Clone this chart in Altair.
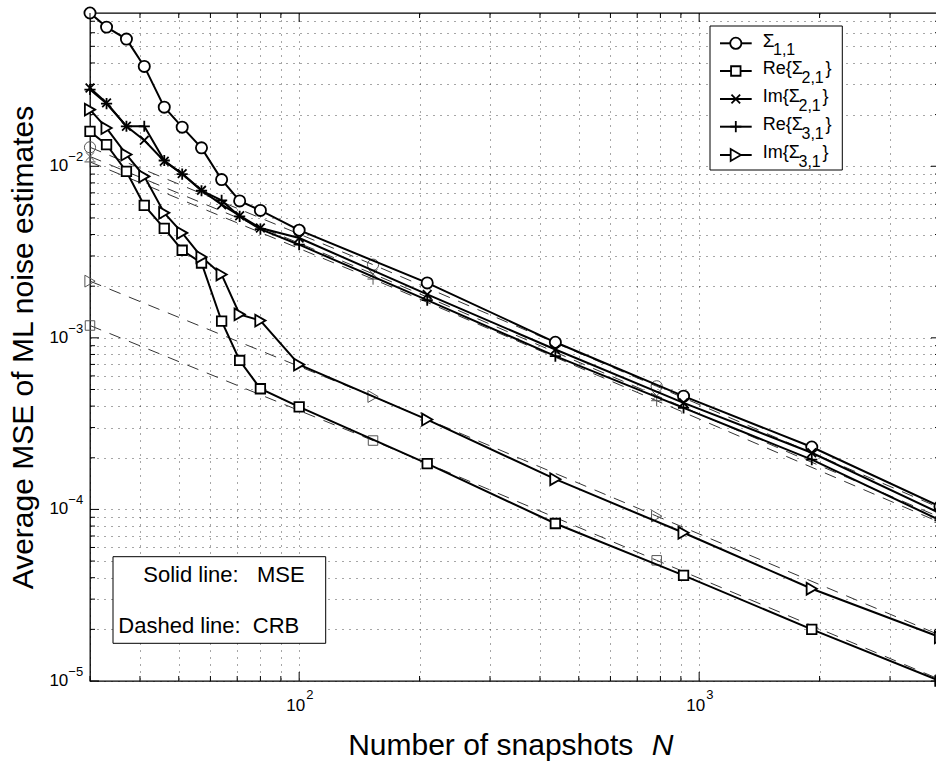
import altair as alt
import pandas as pd

FONT = "Liberation Sans"

# ---- number of snapshots ---------------------------------------------------
n_mse = [30, 33, 37, 41, 46, 51, 57, 64, 71, 80, 100, 209, 437, 914, 1912, 4000]
n_crb = [30, 153, 783, 4000]

# ---- average MSE of the ML noise estimates (solid lines) -------------------
mse_s11 = [0.0782, 0.0647, 0.0551, 0.0382, 0.0221, 0.0169, 0.0128, 0.00836,
           0.00628, 0.00553, 0.00424, 0.00209, 9.42e-4, 4.57e-4, 2.31e-4, 1.04e-4]
mse_re21 = [0.01596, 0.01336, 0.00933, 0.00591, 0.00434, 0.00324, 0.00273, 0.00125,
            7.38e-4, 5.05e-4, 3.96e-4, 1.85e-4, 8.28e-5, 4.13e-5, 2.0e-5, 1.0e-5]
mse_im21 = [0.0286, 0.0234, 0.0171, 0.01416, 0.0107, 0.00906, 0.00724, 0.00597,
            0.00515, 0.00437, 0.00382, 0.00179, 8.55e-4, 4.18e-4, 2.14e-4, 9.5e-5]
mse_re31 = [0.0280, 0.0232, 0.0171, 0.0171, 0.0108, 0.0090, 0.0072, 0.00632,
            0.0051, 0.0043, 0.00349, 0.00166, 7.82e-4, 3.91e-4, 1.95e-4, 8.65e-5]
mse_im31 = [0.02138, 0.0167, 0.0117, 0.00873, 0.00535, 0.00409, 0.00296, 0.00234,
            0.00137, 0.00126, 6.98e-4, 3.34e-4, 1.50e-4, 7.31e-5, 3.45e-5, 1.8e-5]

# ---- Cramer-Rao bounds (dashed lines) --------------------------------------
crb_s11 = [0.0129, 2.67e-3, 5.22e-4, 1.02e-4]
crb_re21 = [1.18e-3, 2.52e-4, 5.05e-5, 1.02e-5]
crb_im21 = [0.0114, 2.36e-3, 4.6e-4, 9.0e-5]
crb_re31 = [0.0106, 2.2e-3, 4.3e-4, 8.4e-5]
crb_im31 = [2.14e-3, 4.55e-4, 9.14e-5, 1.85e-5]

# ---- series, marker shapes and sizes ---------------------------------------
series_keys = ["s11", "re21", "im21", "re31", "im31"]
marker_shapes = ["circle", "square", "M-1,-1L1,1M-1,1L1,-1", "M-1,0L1,0M0,-1L0,1",
                 "triangle-right"]
marker_sizes = [125, 90, 75, 125, 140]

# ---- tick positions ----------------------------------------------------------
x_major = [100, 1000]
x_minor = [30, 40, 50, 60, 70, 80, 90, 200, 300, 400, 500, 600, 700, 800, 900,
           2000, 3000, 4000]
y_major = [1e-5, 1e-4, 1e-3, 1e-2]
y_minor = [k * 10.0 ** e for e in (-5, -4, -3, -2) for k in range(2, 10)
           if k * 10.0 ** e <= 0.0782]
x_label_exp = ["2", "3"]
y_label_exp = ["\u22125", "\u22124", "\u22123", "\u22122"]

W, H = 850, 668


def stack(ns, cols):
    rows = []
    for key, vals, sz in zip(series_keys, cols, marker_sizes):
        for n, v in zip(ns, vals):
            rows.append({"N": n, "value": v, "series": key, "msize": sz})
    return pd.DataFrame(rows)


mse_df = stack(n_mse, [mse_s11, mse_re21, mse_im21, mse_re31, mse_im31])
crb_df = stack(n_crb, [crb_s11, crb_re21, crb_im21, crb_re31, crb_im31])

xscale = alt.Scale(type="log", domain=[30, 4000], nice=False)
yscale = alt.Scale(type="log", domain=[1e-5, 0.0782], nice=False)

grid_style = dict(grid=True, labels=False, ticks=False, domain=False, title=None,
                  gridDash=[1, 6], gridColor="#000000", gridOpacity=0.7, gridWidth=1)
x_axis = alt.Axis(values=sorted(x_minor + x_major), **grid_style)
y_axis = alt.Axis(values=sorted(y_minor + y_major), **grid_style)

X = alt.X("N:Q", scale=xscale, axis=x_axis)
Y = alt.Y("value:Q", scale=yscale, axis=y_axis)
SHAPE = alt.Shape("series:N", scale=alt.Scale(domain=series_keys, range=marker_shapes),
                  legend=None)
SIZE = alt.Size("msize:Q", scale=None, legend=None)

crb_lines = alt.Chart(crb_df).mark_line(strokeDash=[12, 9], strokeWidth=1, color="#333333").encode(
    x=X, y=Y, detail="series:N")
crb_pts = alt.Chart(crb_df).mark_point(filled=False, strokeWidth=1, color="#555555", opacity=1).encode(
    x=X, y=Y, shape=SHAPE, size=SIZE)
mse_lines = alt.Chart(mse_df).mark_line(strokeWidth=2, color="black").encode(
    x=X, y=Y, detail="series:N")
mse_pts = alt.Chart(mse_df).mark_point(filled=True, fill="white", stroke="black",
                                       strokeWidth=1.8, opacity=1).encode(
    x=X, y=Y, shape=SHAPE, size=SIZE)

# inward tick marks on the box edges
xt_rows = []
for v in x_minor + x_major:
    L = 9 if v in x_major else 5
    xt_rows.append({"v": v, "p0": H, "p1": H - L})
    xt_rows.append({"v": v, "p0": 0, "p1": L})
yt_rows = []
for v in y_minor + y_major:
    L = 9 if v in y_major else 5
    yt_rows.append({"v": v, "p0": 0, "p1": L})
    yt_rows.append({"v": v, "p0": W, "p1": W - L})

x_ticks = alt.Chart(pd.DataFrame(xt_rows)).mark_rule(color="black", strokeWidth=1).encode(
    x=alt.X("v:Q", scale=xscale, axis=x_axis), y=alt.Y("p0:Q", scale=None), y2="p1:Q")
y_ticks = alt.Chart(pd.DataFrame(yt_rows)).mark_rule(color="black", strokeWidth=1).encode(
    y=alt.Y("v:Q", scale=yscale, axis=y_axis), x=alt.X("p0:Q", scale=None), x2="p1:Q")

# tick labels as 10 with a raised exponent
ylab_df = pd.DataFrame({"v": y_major, "base": "10", "exp": y_label_exp})
xlab_df = pd.DataFrame({"v": x_major, "base": "10", "exp": x_label_exp})
ylab_base = alt.Chart(ylab_df).mark_text(align="right", baseline="middle", font=FONT,
                                         fontSize=17).encode(
    x=alt.value(-21.7), y=alt.Y("v:Q", scale=yscale, axis=y_axis), text="base:N")
ylab_exp = alt.Chart(ylab_df).mark_text(align="left", baseline="middle", font=FONT,
                                        fontSize=13, dy=-9).encode(
    x=alt.value(-21.7), y=alt.Y("v:Q", scale=yscale, axis=y_axis), text="exp:N")
xlab_base = alt.Chart(xlab_df).mark_text(align="right", baseline="middle", font=FONT,
                                         fontSize=17, dx=6).encode(
    x=alt.X("v:Q", scale=xscale, axis=x_axis), y=alt.value(692.7), text="base:N")
xlab_exp = alt.Chart(xlab_df).mark_text(align="left", baseline="middle", font=FONT,
                                        fontSize=13, dx=7).encode(
    x=alt.X("v:Q", scale=xscale, axis=x_axis), y=alt.value(682), text="exp:N")

one = pd.DataFrame({"t": ["Average MSE of ML noise estimates"]})
y_title = alt.Chart(one).mark_text(angle=270, align="center", baseline="alphabetic",
                                   font=FONT, fontSize=30).encode(
    x=alt.value(-56.7), y=alt.value(334.5), text="t:N")
x_title = alt.Chart(pd.DataFrame({"t": ["Number of snapshots"]})).mark_text(
    align="right", baseline="alphabetic", font=FONT, fontSize=30).encode(
    x=alt.value(543.3), y=alt.value(742), text="t:N")
x_title_n = alt.Chart(pd.DataFrame({"t": ["N"]})).mark_text(
    align="left", baseline="alphabetic", font=FONT, fontSize=30, fontStyle="italic").encode(
    x=alt.value(561.7), y=alt.value(742), text="t:N")

# annotation box: line styles
note_box = alt.Chart(pd.DataFrame({"k": [0]})).mark_rect(fill="white", stroke="black",
                                                          strokeWidth=1).encode(
    x=alt.value(23), x2=alt.value(235.7), y=alt.value(543.7), y2=alt.value(630.3))
note_txt = pd.DataFrame({
    "txt": ["Solid line:\u00a0\u00a0\u00a0MSE", "Dashed line:\u00a0\u00a0CRB"],
    "px": [53.3, 28.3], "py": [568.7, 620.3], "fs": [22, 22]})

# legend
leg_rows = [30.3, 58, 86, 113.7, 142]
leg_df = pd.DataFrame({"series": series_keys, "ly": leg_rows, "msize": marker_sizes})
leg_box = alt.Chart(pd.DataFrame({"k": [0]})).mark_rect(fill="white", stroke="black",
                                                         strokeWidth=1).encode(
    x=alt.value(620), x2=alt.value(752.3), y=alt.value(13), y2=alt.value(157))
leg_lines = alt.Chart(leg_df).mark_rule(color="black", strokeWidth=2).encode(
    x=alt.value(630), x2=alt.value(661.7), y=alt.Y("ly:Q", scale=None))
leg_pts = alt.Chart(leg_df).mark_point(filled=True, fill="white", stroke="black",
                                       strokeWidth=1.8, opacity=1).encode(
    x=alt.value(645.8), y=alt.Y("ly:Q", scale=None), shape=SHAPE, size=SIZE)

leg_txt = pd.DataFrame([
    {"txt": "\u03a3", "px": 672.7, "py": 33.8, "fs": 19},
    {"txt": "1,1", "px": 683.0, "py": 42.3, "fs": 16},
    {"txt": "Re{\u03a3", "px": 672.7, "py": 61.0, "fs": 18},
    {"txt": "2,1", "px": 711.5, "py": 70.0, "fs": 16},
    {"txt": "}", "px": 735.5, "py": 61.0, "fs": 18},
    {"txt": "Im{\u03a3", "px": 672.7, "py": 89.0, "fs": 18},
    {"txt": "2,1", "px": 708.5, "py": 98.0, "fs": 16},
    {"txt": "}", "px": 732.5, "py": 89.0, "fs": 18},
    {"txt": "Re{\u03a3", "px": 672.7, "py": 116.7, "fs": 18},
    {"txt": "3,1", "px": 711.5, "py": 125.7, "fs": 16},
    {"txt": "}", "px": 735.5, "py": 116.7, "fs": 18},
    {"txt": "Im{\u03a3", "px": 672.7, "py": 145.0, "fs": 18},
    {"txt": "3,1", "px": 708.5, "py": 154.0, "fs": 16},
    {"txt": "}", "px": 732.5, "py": 145.0, "fs": 18},
])
all_txt = pd.concat([note_txt, leg_txt], ignore_index=True)
free_text = alt.Chart(all_txt).mark_text(align="left", baseline="alphabetic", font=FONT,
                                         color="black").encode(
    x=alt.X("px:Q", scale=None), y=alt.Y("py:Q", scale=None), text="txt:N",
    size=alt.Size("fs:Q", scale=None, legend=None))

chart = alt.layer(
    crb_lines, crb_pts, mse_lines, mse_pts, x_ticks, y_ticks,
    note_box, leg_box, leg_lines, leg_pts, free_text,
    ylab_base, ylab_exp, xlab_base, xlab_exp, y_title, x_title, x_title_n,
).properties(
    width=W, height=H,
    padding={"left": 90, "top": 13, "right": -4, "bottom": 80},
    autosize=alt.AutoSizeParams(type="none"),
    background="white",
).configure_view(stroke="black", strokeWidth=1.3)

chart.save("out.html", embed_options={"renderer": "svg", "actions": False})
